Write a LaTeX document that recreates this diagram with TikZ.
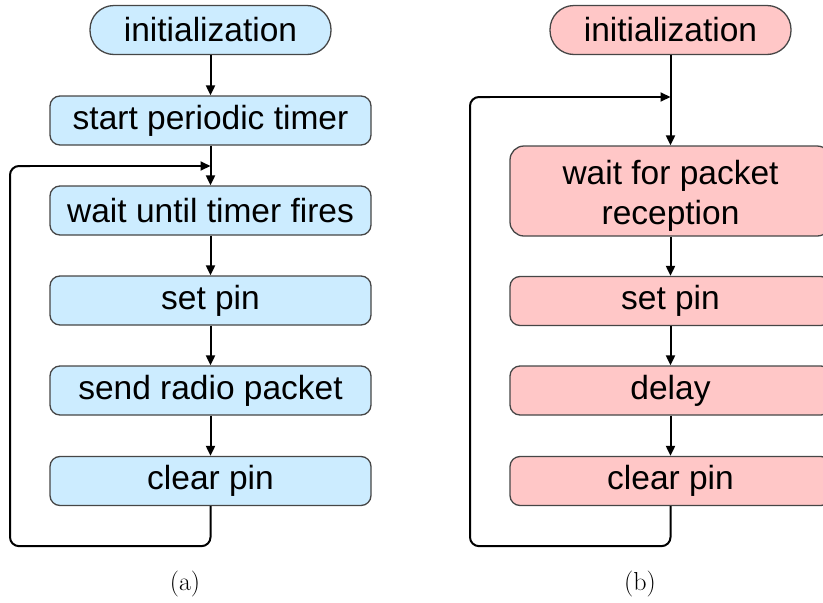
\documentclass[tikz,border=0pt]{standalone}
\usepackage{fontspec}
\setmainfont{Liberation Sans}
\newfontfamily\capfont{Latin Modern Roman}
\usetikzlibrary{arrows.meta}
\definecolor{blueF}{RGB}{204,236,255}
\definecolor{pinkF}{RGB}{255,199,199}
\definecolor{edgeC}{RGB}{70,70,70}
\tikzset{
  stepbox/.style={draw=edgeC, line width=1.3pt, rounded corners=10pt,
    minimum width=321pt, minimum height=49pt, inner sep=0pt,
    font=\fontsize{33.5}{40}\selectfont, align=center},
  stadium/.style={draw=edgeC, line width=1.3pt, rounded corners=24pt,
    minimum width=241pt, minimum height=49pt, inner sep=0pt,
    font=\fontsize{33.5}{40}\selectfont},
  flow/.style={draw=black, line width=2pt,
    -{Triangle[length=10pt,width=9pt]}},
  back/.style={draw=black, line width=2pt, rounded corners=9pt},
  caption/.style={font=\capfont\fontsize{26}{30}\selectfont}
}
\begin{document}
\begin{tikzpicture}[x=1pt,y=-1pt]
\useasboundingbox (0,0) rectangle (823,603);

% left flow: periodic sender
\node[stadium, fill=blueF] (initA) at (210.5,30) {initialization};
\node[stepbox, fill=blueF] (startA) at (210.5,120.5) {start periodic timer};
\node[stepbox, fill=blueF] (waitA) at (210.5,210.5) {wait until timer fires};
\node[stepbox, fill=blueF] (setA) at (210.5,300.5) {set pin};
\node[stepbox, fill=blueF] (sendA) at (210.5,390.5) {send radio packet};
\node[stepbox, fill=blueF] (clrA) at (210.5,481) {clear pin};
\coordinate (joinA) at (210.5,166);

\draw[flow] (initA) -- (startA);
\draw[flow] (startA) -- (waitA);
\draw[flow] (waitA) -- (setA);
\draw[flow] (setA) -- (sendA);
\draw[flow] (sendA) -- (clrA);
\draw[back] (clrA.south) -- ++(0,40) -| (10,166) -- ++(20,0);
\draw[flow] (28,166) -- (joinA);

% right flow: receiver
\node[stadium, fill=pinkF] (initB) at (670.5,30) {initialization};
\node[stepbox, fill=pinkF, minimum height=90pt, rounded corners=14pt,
      text height=74pt] (waitB) at (670.5,191) {wait for packet\\reception};
\node[stepbox, fill=pinkF] (setB) at (670.5,301) {set pin};
\node[stepbox, fill=pinkF] (delayB) at (670.5,390.5) {delay};
\node[stepbox, fill=pinkF] (clrB) at (670.5,481) {clear pin};
\coordinate (joinB) at (670.5,97);

\draw[flow] (initB) -- (waitB);
\draw[flow] (waitB) -- (setB);
\draw[flow] (setB) -- (delayB);
\draw[flow] (delayB) -- (clrB);
\draw[back] (clrB.south) -- ++(0,40) -| (470,97) -- ++(20,0);
\draw[flow] (488,97) -- (joinB);

% captions
\node[caption] (capA) at (185,584) {(a)};
\node[caption] (capB) at (640,584) {(b)};
\end{tikzpicture}
\end{document}
